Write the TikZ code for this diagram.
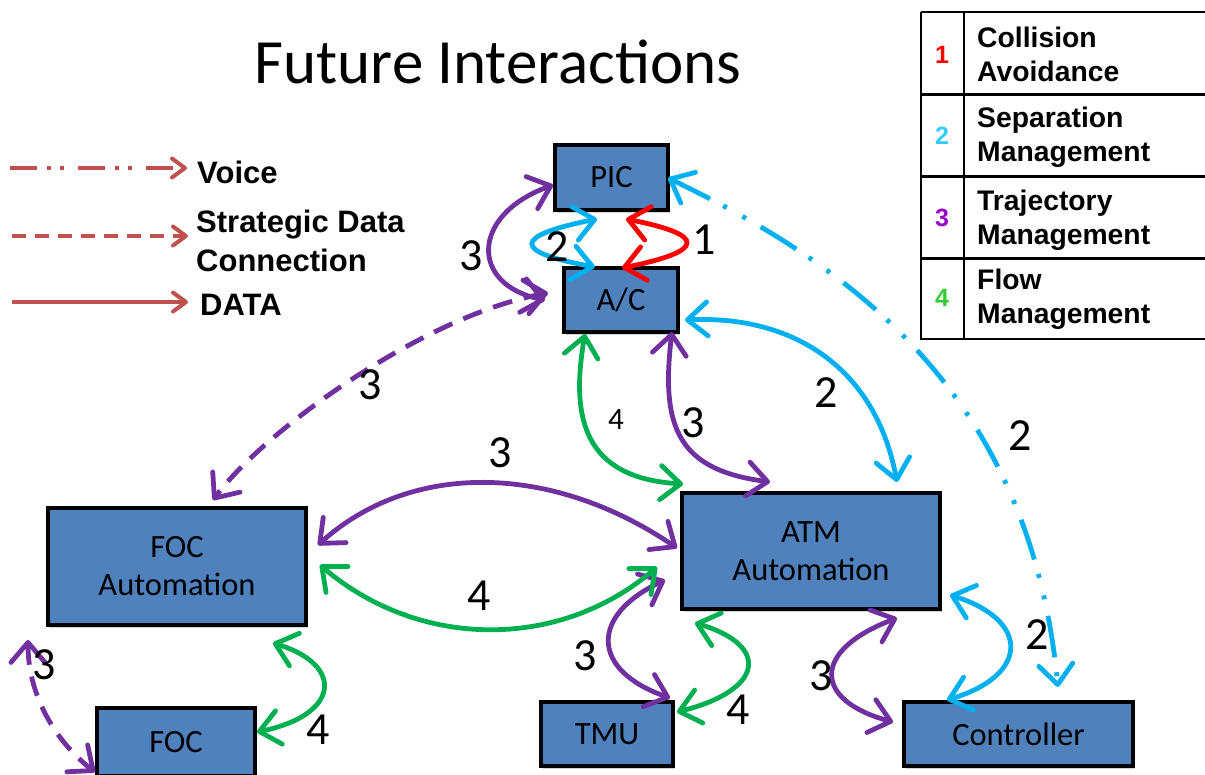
\documentclass[tikz,border=0pt]{standalone}
\usepackage{fontspec}
\setmainfont{Carlito}
\newfontfamily\arialfont{Liberation Sans}
\usetikzlibrary{arrows.meta,calc,shadows}

\definecolor{boxblue}{HTML}{4F81BD}
\definecolor{legendred}{HTML}{C0504D}
\definecolor{trajpurple}{HTML}{7030A0}
\definecolor{flowgreen}{HTML}{00B050}
\definecolor{sepblue}{HTML}{00B0F0}
\definecolor{colred}{HTML}{FF0000}
\definecolor{numblue}{HTML}{33CCFF}
\definecolor{numpurple}{HTML}{9900CC}
\definecolor{numgreen}{HTML}{33CC33}

\begin{document}
\begin{tikzpicture}[x=1pt,y=-1pt,
  >={Straight Barb[length=20pt,width=34pt,round]},
  box/.style={draw=black, line width=4pt, fill=boxblue, inner sep=0pt, outer sep=0pt,
    align=center, font=\fontsize{32.5}{38}\selectfont,
    drop shadow={shadow xshift=2pt, shadow yshift=-3pt, opacity=0.35}},
  link/.style={line width=4.8pt, line cap=round, <->},
  dashlink/.style={line width=4.8pt, <->, dash pattern=on 20pt off 12pt},
  voicelink/.style={line width=4.8pt, <->,
    dash pattern=on 42pt off 15pt on 4pt off 18pt on 4pt off 17pt},
  num/.style={font=\fontsize{46}{50}\selectfont, inner sep=0pt},
  legline/.style={draw=legendred, line width=4pt,
    -{Straight Barb[length=13pt,width=19pt,round]}},
  legtext/.style={anchor=west, align=left, inner sep=0pt,
    font=\arialfont\bfseries\fontsize{31}{39}\selectfont},
  tabtext/.style={anchor=west, align=left, inner sep=0pt,
    font=\arialfont\bfseries\fontsize{28.3}{34}\selectfont},
  tabnum/.style={inner sep=0pt, font=\arialfont\bfseries\fontsize{25}{30}\selectfont},
]
\useasboundingbox (0,0) rectangle (1205,774);

% title
\node[anchor=base, inner sep=0pt, font=\fontsize{63}{70}\selectfont] (title) at (498,83) {Future Interactions};

% line-style legend
\coordinate (voiceA) at (10,168);  \coordinate (voiceB) at (187,168);
\coordinate (stratA) at (12,236);  \coordinate (stratB) at (188,236);
\coordinate (dataA)  at (12,302);  \coordinate (dataB)  at (188,302);
\draw[legline, dash pattern=on 27pt off 10pt on 4pt off 9pt on 4pt off 14pt] (voiceA) -- (voiceB);
\draw[legline, dash pattern=on 14pt off 9pt] (stratA) -- (stratB);
\draw[legline] (dataA) -- (dataB);
\node[legtext] (voice) at (197,172) {Voice};
\node[legtext] (strat) at (196,241) {Strategic Data\\Connection};
\node[legtext] (data) at (200,305) {DATA};

% colour-code table
\draw[line width=2pt] (921,12) -- (1205,12);
\draw[line width=3pt] (921,94) -- (1205,94);
\draw[line width=3pt] (921,176) -- (1205,176);
\draw[line width=3pt] (921,258) -- (1205,258);
\draw[line width=2pt] (921,339) -- (1205,339);
\draw[line width=2pt] (921,12) -- (921,340);
\draw[line width=2pt] (964,12) -- (964,340);
\node[tabnum, text=colred]    (n1) at (942,55)  {1};
\node[tabnum, text=numblue]   (n2) at (942,136) {2};
\node[tabnum, text=numpurple] (n3) at (942,218) {3};
\node[tabnum, text=numgreen]  (n4) at (942,298) {4};
\node[tabtext] (t1) at (977,54)  {Collision\\Avoidance};
\node[tabtext] (t2) at (977,137) {Separation\\Management};
\node[tabtext] (t3) at (977,220) {Trajectory\\Management};
\node[tabtext] (t4) at (977,299) {Flow\\Management};

% system boxes
\node[box, minimum width=113pt, minimum height=65pt]  (pic)  at (611.5,177.5) {PIC};
\node[box, minimum width=114pt, minimum height=64pt]  (ac)   at (621,300)     {A/C};
\node[box, minimum width=258pt, minimum height=117pt] (foca) at (177,566.5)   {FOC\\Automation};
\node[box, minimum width=258pt, minimum height=116pt] (atm)  at (811,551)     {ATM\\Automation};
\node[box, minimum width=158pt, minimum height=68pt]  (foc)  at (176,742)     {FOC};
\node[box, minimum width=132pt, minimum height=64pt]  (tmu)  at (607,734)     {TMU};
\node[box, minimum width=229pt, minimum height=64pt]  (ctrl) at (1018.5,734)  {Controller};

% collision avoidance
\draw[link, colred] ($(pic)+(14.5,41.5)$) .. controls +(81,16) and +(84,-17) .. ($(ac)+(1,-32)$);
% separation management
\draw[link, sepblue] ($(pic)+(-14.5,41.5)$) .. controls +(-85,17) and +(-83,-15) .. ($(ac)+(-26,-33)$);
\draw[link, sepblue] ($(ac)+(64,20)$) .. controls +(105,-5) and +(-22,-117) .. ($(atm)+(86,-69)$);
\draw[voicelink, sepblue] ($(pic)+(56.5,0.5)$) .. controls +(192,92) and +(-28,-287) .. ($(ctrl)+(39.5,-47)$);
\draw[link, sepblue] ($(atm)+(139,44)$) .. controls +(80,25) and +(83,-25) .. ($(ctrl)+(-71.5,-34)$);
% trajectory management
\draw[link, trajpurple] ($(pic)+(-58.5,7.5)$) .. controls +(-83,30) and +(-75,-15) .. ($(ac)+(-76,0)$);
\draw[dashlink, trajpurple] ($(ac)+(-73,-7)$) .. controls +(-123,22) and +(52,-70) .. ($(foca)+(36,-66.5)$);
\draw[link, trajpurple] ($(ac)+(51,32)$) .. controls +(-12,98) and +(-90,-12) .. ($(atm)+(-41,-69)$);
\draw[link, trajpurple] ($(foca)+(141,-21.5)$) .. controls +(92,-83) and +(-127,-86) .. ($(atm)+(-134,-3)$);
\draw[link, trajpurple] ($(atm)+(-146,29)$) .. controls +(-75,35) and +(-80,-28) .. ($(tmu)+(63,-36)$);
\draw[link, trajpurple] ($(atm)+(86,67)$) .. controls +(-85,32) and +(-81,-22) .. ($(ctrl)+(-125.5,-12)$);
\draw[dashlink, trajpurple] ($(foca)+(-149,73.5)$) .. controls +(0,60) and +(-35,-27) .. ($(foc)+(-81,30)$);
% flow management
\draw[link, flowgreen] ($(ac)+(-36,34)$) .. controls +(-15,86) and +(-98,-6) .. ($(atm)+(-128,-67)$);
\draw[link, flowgreen] ($(foca)+(143,-1.5)$) .. controls +(100,85) and +(-97,83) .. ($(atm)+(-154,16)$);
\draw[link, flowgreen] ($(atm)+(-116,72)$) .. controls +(75,22) and +(88,-22) .. ($(tmu)+(70,-22)$);
\draw[link, flowgreen] ($(foca)+(96,76.5)$) .. controls +(72,22) and +(83,-17) .. ($(foc)+(81,-10)$);

% connector numbers
\node[num] (l1)  at (704,240) {1};
\node[num] (l2)  at (557,247) {2};
\node[num] (l3)  at (471,256) {3};
\node[num] (l4)  at (370,385) {3};
\node[num, font=\fontsize{31}{34}\selectfont] (l5) at (616,420) {4};
\node[num] (l6)  at (693,423) {3};
\node[num] (l7)  at (826,393) {2};
\node[num] (l8)  at (1020,436) {2};
\node[num] (l9)  at (500,453) {3};
\node[num] (l10) at (479,596) {4};
\node[num] (l11) at (585,656) {3};
\node[num] (l12) at (738,710) {4};
\node[num] (l13) at (821,676) {3};
\node[num] (l14) at (1037,635) {2};
\node[num] (l15) at (318,730) {4};
\node[num] (l16) at (44,665) {3};
\end{tikzpicture}
\end{document}
